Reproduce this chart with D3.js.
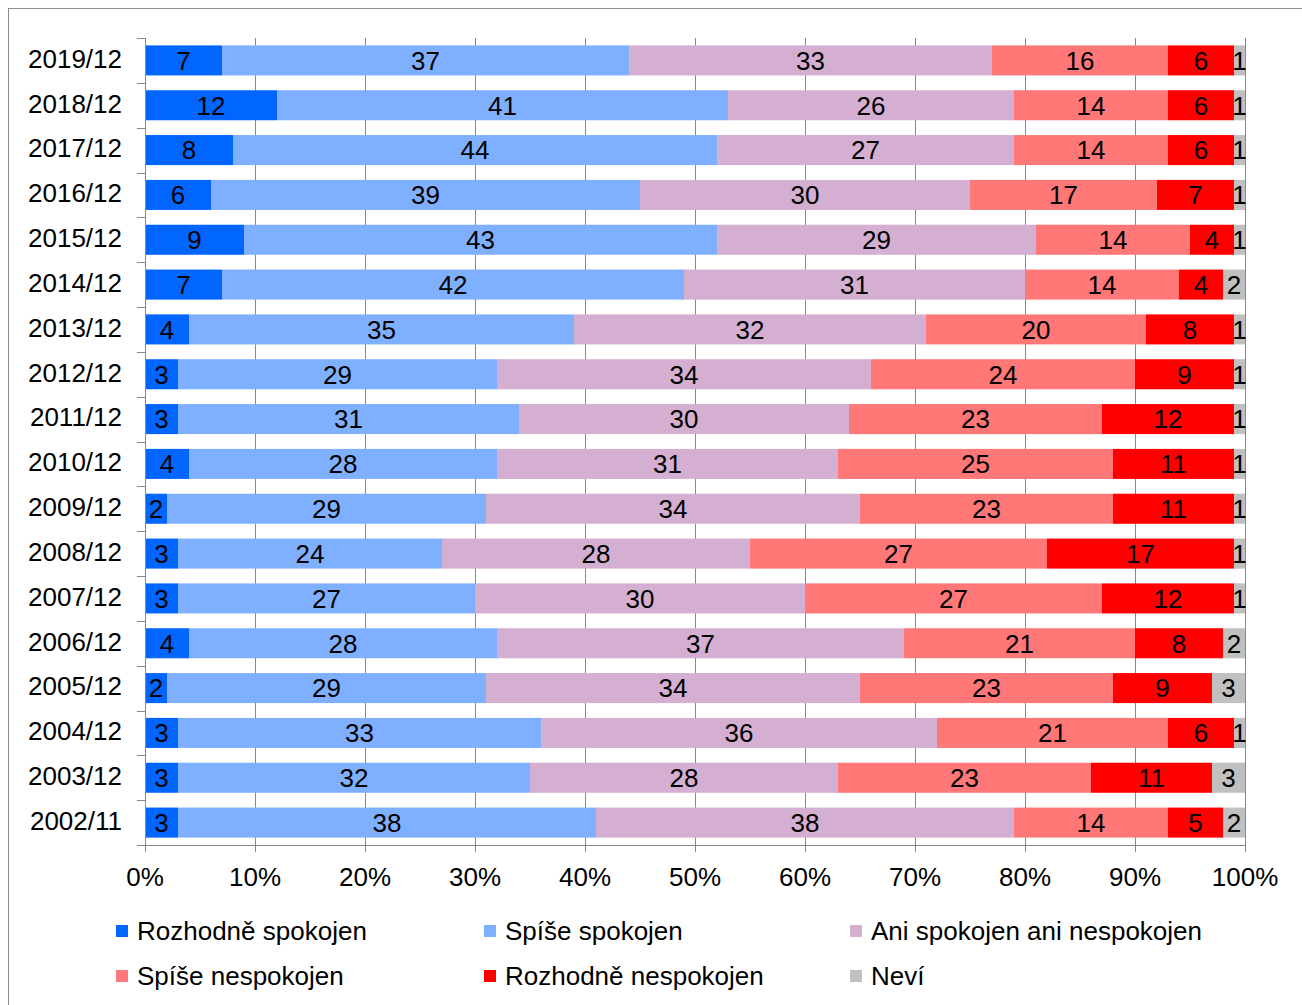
<html>
<head>
<script src="https://d3js.org/d3.v7.min.js"></script>
<style>
  body { margin: 0; background: #fff; }
  text { font-family: "Liberation Sans", Arial, sans-serif; }
</style>
</head>
<body>
<div id="chart"></div>
<script>
const periods = ["2019/12", "2018/12", "2017/12", "2016/12", "2015/12", "2014/12", "2013/12", "2012/12", "2011/12",
  "2010/12", "2009/12", "2008/12", "2007/12", "2006/12", "2005/12", "2004/12", "2003/12", "2002/11"];
const seriesNames = ["Rozhodně spokojen", "Spíše spokojen", "Ani spokojen ani nespokojen",
  "Spíše nespokojen", "Rozhodně nespokojen", "Neví"];
const seriesColors = ["#0066ff", "#7fb0ff", "#d4afd1", "#ff7777", "#ff0000", "#c0c0c0"];

const rozhodneSpokojen   = [7, 12, 8, 6, 9, 7, 4, 3, 3, 4, 2, 3, 3, 4, 2, 3, 3, 3];
const spiseSpokojen      = [37, 41, 44, 39, 43, 42, 35, 29, 31, 28, 29, 24, 27, 28, 29, 33, 32, 38];
const ani                = [33, 26, 27, 30, 29, 31, 32, 34, 30, 31, 34, 28, 30, 37, 34, 36, 28, 38];
const spiseNespokojen    = [16, 14, 14, 17, 14, 14, 20, 24, 23, 25, 23, 27, 27, 21, 23, 21, 23, 14];
const rozhodneNespokojen = [6, 6, 6, 7, 4, 4, 8, 9, 12, 11, 11, 17, 12, 8, 9, 6, 11, 5];
const nevi               = [1, 1, 1, 1, 1, 2, 1, 1, 1, 1, 1, 1, 1, 2, 3, 1, 3, 2];
const xTicks = [0, 10, 20, 30, 40, 50, 60, 70, 80, 90, 100];

const allSeries = [rozhodneSpokojen, spiseSpokojen, ani, spiseNespokojen, rozhodneNespokojen, nevi];
const rows = periods.map((p, i) => {
  const r = { period: p };
  seriesNames.forEach((s, j) => r[s] = allSeries[j][i]);
  return r;
});

const W = 1302, H = 1005;
const svg = d3.select("#chart").append("svg").attr("width", W).attr("height", H);

svg.append("rect").attr("x", 8.5).attr("y", 8.5).attr("width", W).attr("height", H)
  .attr("fill", "none").attr("stroke", "#8c8c8c");

const x = d3.scaleLinear().domain([0, 100]).range([145, 1245]);
const y = d3.scaleBand().domain(periods).range([38, 845]).paddingInner(0.33).paddingOuter(0.165);
const axisColor = "#888";

// grid lines
svg.append("g").selectAll("line").data(xTicks).join("line")
  .attr("x1", d => x(d) + 0.5).attr("x2", d => x(d) + 0.5)
  .attr("y1", 38).attr("y2", 852)
  .attr("stroke", axisColor).attr("stroke-width", 1);

const stack = d3.stack().keys(seriesNames)(rows);

const layers = svg.append("g").selectAll("g").data(stack).join("g")
  .attr("fill", (d, i) => seriesColors[i]);
layers.selectAll("rect").data(d => d).join("rect")
  .attr("x", d => x(d[0]))
  .attr("width", d => x(d[1]) - x(d[0]))
  .attr("y", d => y(d.data.period))
  .attr("height", y.bandwidth());

layers.selectAll("text").data(d => d).join("text")
  .attr("x", d => (x(d[0]) + x(d[1])) / 2)
  .attr("y", d => y(d.data.period) + y.bandwidth() / 2)
  .attr("dy", "0.36em")
  .attr("text-anchor", "middle")
  .attr("fill", "#000")
  .attr("font-size", 26)
  .text(d => d[1] - d[0]);

// y axis
const yAxis = svg.append("g");
yAxis.append("line").attr("x1", 145.5).attr("x2", 145.5).attr("y1", 38).attr("y2", 845)
  .attr("stroke", axisColor);
yAxis.selectAll(".yt").data(d3.range(periods.length + 1)).join("line")
  .attr("x1", 137).attr("x2", 145)
  .attr("y1", i => Math.round(38 + i * (807 / periods.length)) + 0.5)
  .attr("y2", i => Math.round(38 + i * (807 / periods.length)) + 0.5)
  .attr("stroke", axisColor);
yAxis.selectAll("text").data(periods).join("text")
  .attr("x", 122)
  .attr("y", d => y(d) + y.bandwidth() / 2)
  .attr("dy", "0.28em")
  .attr("text-anchor", "end")
  .attr("font-size", 26)
  .text(d => d);

// x axis
const xAxis = svg.append("g");
xAxis.append("line").attr("x1", 137).attr("x2", 1245).attr("y1", 845.5).attr("y2", 845.5)
  .attr("stroke", axisColor);
xAxis.selectAll("text").data(xTicks).join("text")
  .attr("x", d => x(d))
  .attr("y", 886)
  .attr("text-anchor", "middle")
  .attr("font-size", 26)
  .text(d => d + "%");

// legend
const legendPos = [[116, 931], [484, 931], [850, 931], [116, 976], [484, 976], [850, 976]];
const legend = svg.append("g").selectAll("g").data(seriesNames).join("g")
  .attr("transform", (d, i) => `translate(${legendPos[i][0]},${legendPos[i][1]})`);
legend.append("rect").attr("x", 0).attr("y", -6).attr("width", 12).attr("height", 12)
  .attr("fill", (d, i) => seriesColors[i]);
legend.append("text").attr("x", 21).attr("dy", "0.36em").attr("font-size", 26).text(d => d);
</script>
</body>
</html>
